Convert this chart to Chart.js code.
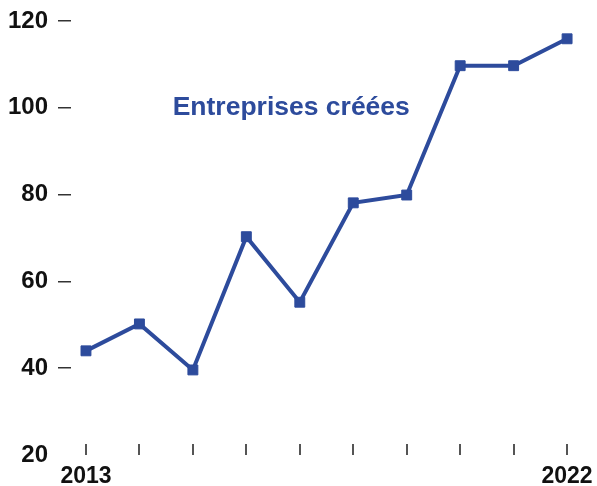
<!DOCTYPE html>
<html>
<head>
<meta charset="utf-8">
<script src="https://cdn.jsdelivr.net/npm/chart.js@4"></script>
<style>
html,body{margin:0;padding:0;background:#fff;}
#wrap{width:597px;height:486px;position:relative;}
</style>
</head>
<body>
<div id="wrap"><canvas id="c"></canvas></div>
<script>
const years = [2013, 2014, 2015, 2016, 2017, 2018, 2019, 2020, 2021, 2022];
const entreprises = [44, 50.2, 39.6, 70.3, 55.2, 78.1, 79.9, 109.7, 109.7, 115.9];
const yTicks = [20, 40, 60, 80, 100, 120];
const xLabelYears = [2013, 2022];
const seriesLabel = 'Entreprises créées';

const BLUE = '#2d4b9c';
const FONT = '"Liberation Sans", Arial, Helvetica, sans-serif';

const xTickMarks = {
  id: 'xTickMarks',
  afterDraw(chart) {
    const {ctx, scales} = chart;
    const yBase = scales.y.getPixelForValue(yTicks[0]);
    ctx.save();
    ctx.strokeStyle = '#555';
    ctx.lineWidth = 2;
    years.forEach(yr => {
      const x = Math.round(scales.x.getPixelForValue(yr));
      ctx.beginPath();
      ctx.moveTo(x, yBase - 11);
      ctx.lineTo(x, yBase);
      ctx.stroke();
    });
    ctx.restore();
  }
};

const seriesTitle = {
  id: 'seriesTitle',
  afterDraw(chart) {
    const {ctx, scales} = chart;
    const x = scales.x.getPixelForValue(2016.84);
    const y = scales.y.getPixelForValue(100.0);
    ctx.save();
    ctx.font = 'bold 26.5px ' + FONT;
    ctx.fillStyle = BLUE;
    ctx.textAlign = 'center';
    ctx.textBaseline = 'middle';
    ctx.fillText(seriesLabel, x, y);
    ctx.restore();
  }
};

new Chart(document.getElementById('c'), {
  type: 'line',
  data: {
    datasets: [{
      label: seriesLabel,
      data: years.map((yr, i) => ({x: yr, y: entreprises[i]})),
      borderColor: BLUE,
      backgroundColor: BLUE,
      borderWidth: 4,
      pointStyle: 'rect',
      pointRadius: 7,
      pointHoverRadius: 7,
      pointBorderWidth: 1,
      tension: 0
    }]
  },
  options: {
    responsive: true,
    maintainAspectRatio: false,
    animation: false,
    layout: {padding: {top: 21, left: 8, right: 7, bottom: 0}},
    plugins: {legend: {display: false}, tooltip: {enabled: false}},
    scales: {
      x: {
        type: 'linear',
        min: 2012.72,
        max: 2022.41,
        afterBuildTicks: axis => { axis.ticks = xLabelYears.map(v => ({value: v})); },
        afterFit: axis => { axis.height = 31; axis.paddingLeft = 0; axis.paddingRight = 0; },
        grid: {display: false, drawTicks: false},
        border: {display: false},
        ticks: {
          callback: v => String(v),
          color: '#111',
          padding: 10,
          maxRotation: 0,
          autoSkip: false,
          font: {family: FONT, size: 23, weight: 'bold', lineHeight: 1}
        }
      },
      y: {
        min: 20,
        max: 120,
        afterBuildTicks: axis => { axis.ticks = yTicks.map(v => ({value: v})); },
        afterFit: axis => { axis.width = 63; axis.paddingTop = 0; axis.paddingBottom = 0; },
        grid: {
          drawOnChartArea: false,
          drawTicks: true,
          tickLength: 13,
          lineWidth: 1.5,
          color: c => (c.tick && c.tick.value === yTicks[0]) ? 'rgba(0,0,0,0)' : '#333'
        },
        border: {display: false},
        ticks: {
          callback: v => String(v),
          color: '#111',
          padding: 10,
          font: {family: FONT, size: 24, weight: 'bold'}
        }
      }
    }
  },
  plugins: [xTickMarks, seriesTitle]
});
</script>
</body>
</html>
